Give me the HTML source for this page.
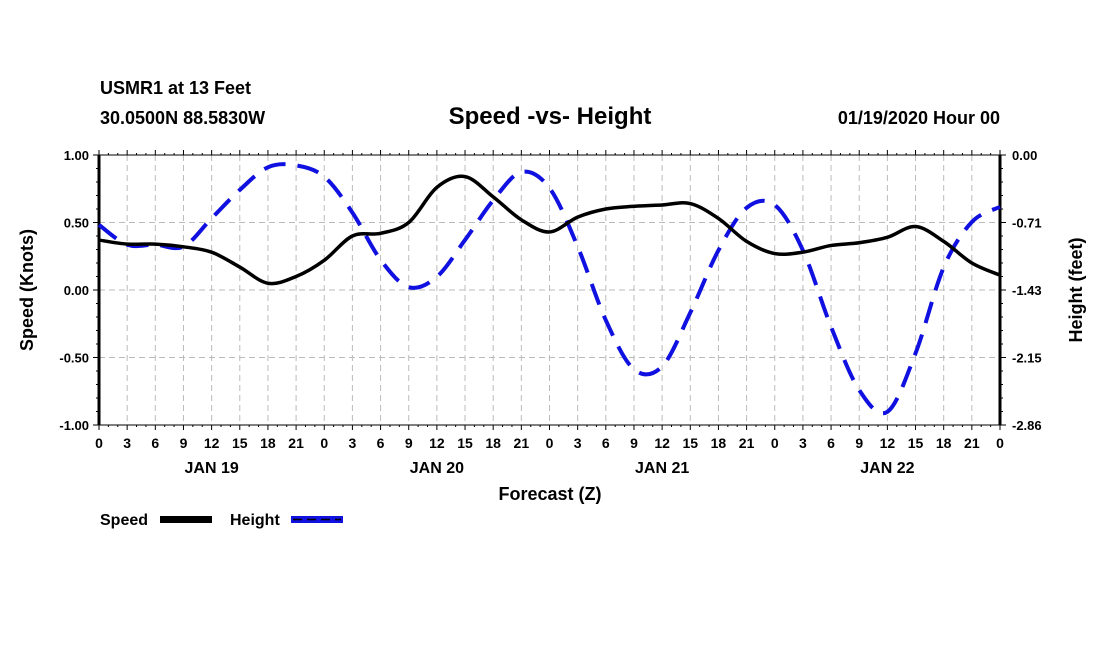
<!DOCTYPE html>
<html><head><meta charset="utf-8"><style>
body{margin:0;background:#fff;}
svg{display:block;font-family:"Liberation Sans",sans-serif;font-weight:bold;}
</style></head><body>
<svg id="chart" width="1100" height="650" viewBox="0 0 1100 650">
<text x="100" y="94" font-size="18">USMR1 at 13 Feet</text>
<text x="100" y="124" font-size="18">30.0500N 88.5830W</text>
<text x="550" y="124" font-size="24" text-anchor="middle">Speed -vs- Height</text>
<text x="1000" y="124" font-size="18" text-anchor="end">01/19/2020 Hour 00</text>
<g id="grid"></g>
<g id="axes"></g>
<g id="series"></g>
<text x="550" y="500" font-size="18" text-anchor="middle">Forecast (Z)</text>
<text transform="translate(33,290) rotate(-90)" font-size="18" text-anchor="middle">Speed (Knots)</text>
<text transform="translate(1082,290) rotate(-90)" font-size="18" text-anchor="middle">Height (feet)</text>
<g>
<text x="100" y="525" font-size="16">Speed</text>
<rect x="160" y="516" width="52" height="7" fill="#000"/>
<text x="230" y="525" font-size="16">Height</text>
<rect x="291" y="516" width="52" height="7" fill="#1010e0"/>
<line x1="293" y1="519.5" x2="341" y2="519.5" stroke="#000" stroke-width="1.5" stroke-dasharray="9 5"/>
</g>
</svg>
<script>
const hours=[0,3,6,9,12,15,18,21,24,27,30,33,36,39,42,45,48,51,54,57,60,63,66,69,72,75,78,81,84,87,90,93,96];
const speed=[0.37,0.34,0.34,0.32,0.28,0.17,0.05,0.10,0.22,0.40,0.42,0.50,0.76,0.84,0.69,0.52,0.43,0.54,0.60,0.62,0.63,0.64,0.53,0.36,0.27,0.28,0.33,0.35,0.39,0.47,0.36,0.20,0.11];
const height=[-0.74,-0.95,-0.95,-0.97,-0.67,-0.37,-0.13,-0.11,-0.23,-0.61,-1.11,-1.40,-1.29,-0.90,-0.48,-0.18,-0.35,-0.97,-1.75,-2.27,-2.24,-1.67,-1.01,-0.56,-0.53,-1.01,-1.82,-2.49,-2.72,-2.10,-1.19,-0.71,-0.55];
const leftTicks=["1.00","0.50","0.00","-0.50","-1.00"];
const rightTicks=["0.00","-0.71","-1.43","-2.15","-2.86"];
const hourLabels=["0","3","6","9","12","15","18","21"];
const dayLabels=["JAN 19","JAN 20","JAN 21","JAN 22"];
const NS='http://www.w3.org/2000/svg';
const L=99,R=1000,T=155,B=425;
const x=h=>L+(R-L)*h/96;
const yS=v=>T+(1-v)/2*(B-T);
const yH=v=>T+(-v)/2.86*(B-T);
function mk(tag,at,parent){const e=document.createElementNS(NS,tag);for(const k in at)e.setAttribute(k,at[k]);parent.appendChild(e);return e;}
const grid=document.getElementById('grid'),axes=document.getElementById('axes'),ser=document.getElementById('series');
for(let i=1;i<32;i++){const g=mk('line',{x1:x(i*3),x2:x(i*3),y1:T,y2:B,stroke:'#bbb','stroke-dasharray':'6 4','stroke-width':1},grid);

}
for(let i=1;i<4;i++){const g=mk('line',{x1:L,x2:R,y1:T+i*(B-T)/4,y2:T+i*(B-T)/4,stroke:'#bbb','stroke-dasharray':'6 4','stroke-width':1},grid);

}
mk('line',{x1:L,x2:R,y1:T,y2:T,stroke:'#000','stroke-width':1},axes);
mk('line',{x1:L,x2:R,y1:B,y2:B,stroke:'#000','stroke-width':1},axes);
mk('line',{x1:L,x2:L,y1:T,y2:B,stroke:'#000','stroke-width':3},axes);
mk('line',{x1:R,x2:R,y1:T,y2:B,stroke:'#000','stroke-width':3},axes);
for(let h=0;h<=96;h++){const len=h%3==0?5:2;
mk('line',{x1:x(h),x2:x(h),y1:B,y2:B+len,stroke:'#000'},axes);
mk('line',{x1:x(h),x2:x(h),y1:T,y2:T-len,stroke:'#000'},axes);}
for(let i=0;i<=20;i++){const yy=T+i*(B-T)/20,len=i%5==0?6:3;
mk('line',{x1:L-len,x2:L,y1:yy,y2:yy,stroke:'#000'},axes);
mk('line',{x1:R,x2:R+len,y1:yy,y2:yy,stroke:'#000'},axes);}
leftTicks.forEach((t,i)=>{const e=mk('text',{x:L-10,y:T+i*(B-T)/4+5,'font-size':13,'text-anchor':'end'},axes);e.textContent=t;

});
rightTicks.forEach((t,i)=>{const e=mk('text',{x:R+12,y:T+i*(B-T)/4+5,'font-size':13},axes);e.textContent=t;

});
for(let i=0;i<=32;i++){const e=mk('text',{x:x(i*3),y:448,'font-size':14,'text-anchor':'middle'},axes);e.textContent=hourLabels[i%8];

}
dayLabels.forEach((d,i)=>{const e=mk('text',{x:x(i*24+12),y:473,'font-size':16,'text-anchor':'middle'},axes);e.textContent=d;

});
function path(vals,yf){const p=hours.map((h,i)=>[x(h),yf(vals[i])]);let d='M'+p[0][0]+','+p[0][1];
for(let i=0;i<p.length-1;i++){const p0=p[Math.max(0,i-1)],p1=p[i],p2=p[i+1],p3=p[Math.min(p.length-1,i+2)];
d+=' C'+(p1[0]+(p2[0]-p0[0])/6)+','+(p1[1]+(p2[1]-p0[1])/6)+' '+(p2[0]-(p3[0]-p1[0])/6)+','+(p2[1]-(p3[1]-p1[1])/6)+' '+p2[0]+','+p2[1];}return d;}
const hp=mk('path',{d:path(height,yH),fill:'none',stroke:'#1010e0','stroke-width':4,'stroke-dasharray':'22 12'},ser);


const sp=mk('path',{d:path(speed,yS),fill:'none',stroke:'#000','stroke-width':3.5},ser);


</script>
</body></html>
